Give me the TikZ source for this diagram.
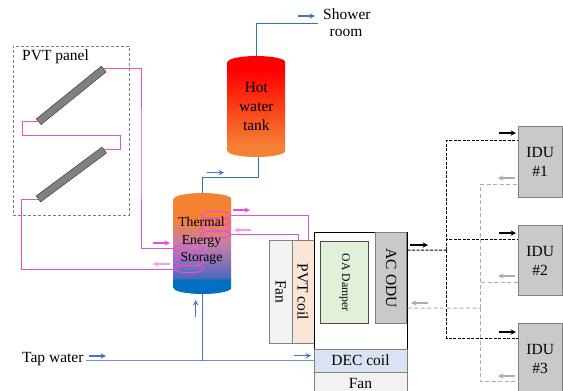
\documentclass[tikz,border=0pt]{standalone}
\usepackage{fontspec}
\setmainfont{Liberation Serif}
\usetikzlibrary{shapes.geometric}
\definecolor{pvtpipe}{HTML}{E650D8}
\definecolor{pvtlight}{HTML}{F59AE8}
\definecolor{hotpipe}{HTML}{2E75B6}
\definecolor{flowblue}{HTML}{4472C4}
\definecolor{tappipe}{HTML}{6F8FD8}
\definecolor{unitgray}{HTML}{C9C9C9}
\definecolor{fangray}{HTML}{F2F2F2}
\definecolor{coilpeach}{HTML}{FBE5D6}
\definecolor{dampergreen}{HTML}{E2F0D9}
\definecolor{decblue}{HTML}{DAE3F3}
\definecolor{tesblue}{HTML}{0070C0}
\definecolor{teslow}{HTML}{4F68C0}
\definecolor{tesmid}{HTML}{C77FA8}
\definecolor{tesorange}{HTML}{F58233}
\pgfdeclareverticalshading{hotshade}{100bp}{color(0bp)=(tesorange);color(30bp)=(tesorange);color(68bp)=(red);color(100bp)=(red)}
\pgfdeclareverticalshading{tesshade}{100bp}{color(0bp)=(tesblue);color(32bp)=(tesblue);color(33bp)=(teslow);color(50bp)=(tesmid);color(63bp)=(tesorange);color(100bp)=(tesorange)}
\begin{document}
\begin{tikzpicture}[x=1pt,y=-1pt,>=stealth,
    txt/.style={font=\fontsize{15.5}{19}\selectfont,inner sep=0pt,align=center},
    unit/.style={draw=gray,line width=1pt,inner sep=0pt,txt},
    panel/.style={draw=black!80,fill=gray,minimum height=7.5pt,inner sep=0pt},
    coil/.style={ellipse,draw=pvtpipe,line width=1pt,minimum width=30pt,minimum height=7.5pt,inner sep=0pt},
    pvtline/.style={draw=pvtpipe,line width=1pt},
    hotline/.style={draw=hotpipe,line width=1pt},
    tapline/.style={draw=tappipe,line width=1pt},
    coolline/.style={dash pattern=on 3pt off 1.5pt,line width=1pt,black},
    retline/.style={dash pattern=on 4pt off 2.5pt,line width=1pt,gray!65},
    flow/.style={->,line width=1.4pt}]
  \clip (0,0) rectangle (563,391);
  % collector group
  \node[draw=gray,densely dashed,minimum width=116pt,minimum height=169pt,inner sep=0pt] (pvtbox) at (71,130.5) {};
  \node[txt,anchor=west] (pvtlabel) at (22,57) {PVT panel};
  \node[panel,minimum width=83.7pt,rotate=39] (panel1) at (71.2,95.4) {};
  \node[panel,minimum width=82pt,rotate=36.6] (panel2) at (71.3,174.5) {};
  % tanks
  \shade[shading=hotshade] (227.7,62) arc[start angle=180,end angle=0,x radius=28.75pt,y radius=6pt] -- (285.2,151) arc[start angle=0,end angle=-180,x radius=28.75pt,y radius=6pt] -- cycle;
  \shade[shading=tesshade] (173.7,199) arc[start angle=180,end angle=0,x radius=28.75pt,y radius=6pt] -- (231.2,288) arc[start angle=0,end angle=-180,x radius=28.75pt,y radius=6pt] -- cycle;
  \coordinate (hottop) at (256.4,56);
  \coordinate (hotbottom) at (258,157);
  \coordinate (testop) at (202.4,193);
  \coordinate (tesbottom) at (202.4,294);
  \node[txt] (hotlabel) at (256.4,106.5) {Hot\\water\\tank};
  \node[coil] (coilu1) at (215.7,215) {};
  \node[coil] (coilu2) at (215.7,221.5) {};
  \node[coil] (coilu3) at (215.7,228) {};
  \node[coil] (coilu4) at (215.7,234.5) {};
  \node[coil] (coill1) at (189,248.3) {};
  \node[coil] (coill2) at (189,255) {};
  \node[coil] (coill3) at (189,262) {};
  \node[coil] (coill4) at (189,269) {};
  \node[txt,font=\fontsize{13.7}{17.5}\selectfont] (teslabel) at (201.5,241) {Thermal\\Energy\\Storage};
  % air handling
  \node[unit,fill=fangray,minimum width=103pt,minimum height=23pt,rotate=-90] (fan1) at (280.5,291.7) {Fan};
  \node[unit,fill=coilpeach,minimum width=103pt,minimum height=22pt,rotate=-90] (pvtcoil) at (303,291.7) {PVT coil};
  \node[draw=black,fill=white,line width=1pt,minimum width=93pt,minimum height=116.5pt,inner sep=0pt] (ahu) at (360.5,291) {};
  \node[unit,draw=black!70,fill=dampergreen,minimum width=82.5pt,minimum height=47.5pt,rotate=-90,font=\fontsize{11.7}{14}\selectfont] (damper) at (344.7,282.7) {OA Damper};
  \node[unit,fill=unitgray,minimum width=90.5pt,minimum height=31.5pt,rotate=-90] (odu) at (391.2,278.2) {AC ODU};
  \node[unit,fill=decblue,minimum width=93pt,minimum height=23pt] (dec) at (360.5,360.5) {DEC coil};
  \node[unit,fill=fangray,minimum width=93pt,minimum height=22pt] (fan2) at (360.5,383) {Fan};
  % indoor units
  \node[unit,fill=unitgray,minimum width=43.7pt,minimum height=70.5pt] (idu1) at (540.2,162) {IDU\\\#1};
  \node[unit,fill=unitgray,minimum width=43.7pt,minimum height=70.5pt] (idu2) at (540.2,260.6) {IDU\\\#2};
  \node[unit,fill=unitgray,minimum width=43.7pt,minimum height=70.5pt] (idu3) at (540.2,359.2) {IDU\\\#3};
  % other labels
  \node[txt,anchor=west] (shower) at (323,14) {Shower};
  \node[txt] (room) at (346,33) {room};
  \node[txt,anchor=west] (tap) at (22,359) {Tap water};
  \coordinate (showerend) at (318,23);
  \coordinate (tapstart) at (86,360.5);
  \coordinate (coolbus) at (446.7,250);
  \coordinate (retbus) at (480.7,308);
  % collector loop
  \draw[pvtline] (panel1.east) -| (141,150) |- (coill1.west);
  \draw[pvtline] (panel1.west) -| (22.5,135) -- (120,135) |- (panel2.east);
  \draw[pvtline] (panel2.west) -- ++(-17,0) |- (coill4.west);
  \draw[pvtline] (coilu1.east) -| ([xshift=5pt]pvtcoil.west);
  \draw[pvtline] (coilu4.east) -| ([xshift=-5pt]pvtcoil.west);
  % water
  \draw[hotline] (hottop) |- (showerend);
  \draw[hotline] (hotbottom) -- ++(0,20) -| (testop);
  \draw[tapline] (tapstart) -- (dec.west);
  \draw[hotline,draw=flowblue] (tesbottom) -- (tesbottom |- dec.west);
  % refrigerant lines
  \draw[coolline] ([yshift=28pt]odu.center -| ahu.east) -- (coolbus);
  \draw[coolline] (coolbus) |- ([yshift=22pt]idu1.west);
  \draw[coolline] (coolbus) |- ([yshift=21.6pt]idu2.west);
  \draw[coolline] (coolbus) |- ([yshift=21pt]idu3.west);
  \draw[retline] ([yshift=-30pt]odu.center -| ahu.east) -- (retbus);
  \draw[retline] (retbus) |- ([yshift=-22pt]idu1.west);
  \draw[retline] (retbus) |- ([yshift=-22pt]idu2.west);
  \draw[retline] (retbus) |- ([yshift=-22.5pt]idu3.west);
  % flow arrows
  \coordinate (a1) at (298,16);
  \coordinate (a2) at (207,172.5);
  \coordinate (a3) at (89,356);
  \coordinate (a4) at (294,355.7);
  \coordinate (a5) at (195.7,317);
  \draw[flow,flowblue] (a1) -- ++(17,0);
  \draw[flow,flowblue] (a2) -- ++(17,0);
  \draw[flow,flowblue] (a3) -- ++(17,0);
  \draw[flow,flowblue] (a4) -- ++(17,0);
  \draw[flow,flowblue] (a5) -- ++(0,-17);
  \coordinate (a6) at (233,210);
  \coordinate (a7) at (251,230);
  \coordinate (a8) at (153,243);
  \coordinate (a9) at (170,264);
  \draw[flow,pvtpipe] (a6) -- ++(17,0);
  \draw[flow,pvtlight] (a7) -- ++(-17,0);
  \draw[flow,pvtpipe] (a8) -- ++(17,0);
  \draw[flow,pvtlight] (a9) -- ++(-17,0);
  \coordinate (b1) at (410,245);
  \coordinate (b2) at (498.5,133);
  \coordinate (b3) at (498.5,233);
  \coordinate (b4) at (498.5,332);
  \draw[flow,black] (b1) -- ++(18,0);
  \draw[flow,black] (b2) -- ++(17.5,0);
  \draw[flow,black] (b3) -- ++(17.5,0);
  \draw[flow,black] (b4) -- ++(17.5,0);
  \coordinate (c1) at (428,303);
  \coordinate (c2) at (515,178);
  \coordinate (c3) at (515,276);
  \coordinate (c4) at (515,376);
  \draw[flow,gray!65] (c1) -- ++(-17,0);
  \draw[flow,gray!65] (c2) -- ++(-17,0);
  \draw[flow,gray!65] (c3) -- ++(-17,0);
  \draw[flow,gray!65] (c4) -- ++(-17,0);
\end{tikzpicture}
\end{document}
